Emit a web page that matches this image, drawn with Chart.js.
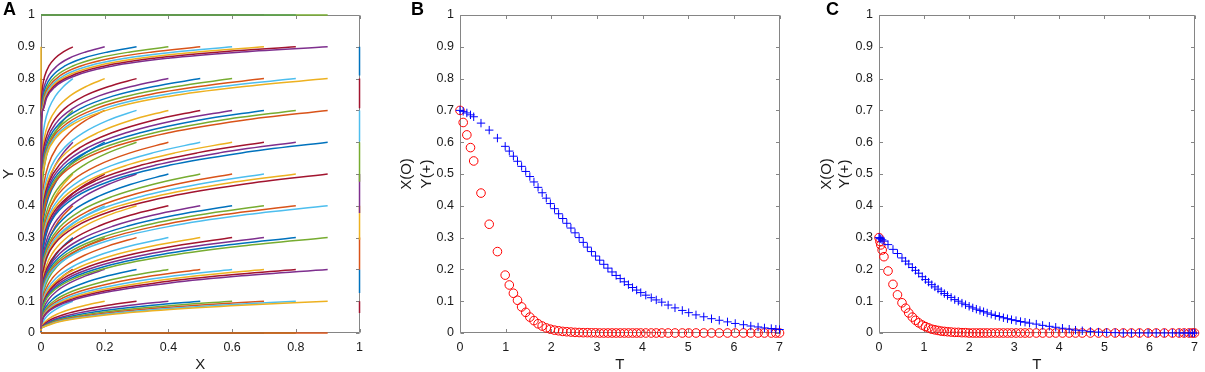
<!DOCTYPE html>
<html>
<head>
<meta charset="utf-8">
<script src="https://cdn.jsdelivr.net/npm/chart.js@4.4.0/dist/chart.umd.min.js"></script>
<style>
  html, body { margin: 0; padding: 0; background: #fff; }
  #wrap { position: relative; width: 1205px; height: 372px; overflow: hidden; }
  #wrap canvas { position: absolute; top: 0; }
  .tag { position: absolute; top: 0; font: bold 18px/18px 'Liberation Sans', Arial, sans-serif; color: #000; }
</style>
</head>
<body>
<div id="wrap">
  <canvas id="chartA" width="370" height="372" style="left:0"></canvas>
  <canvas id="chartB" width="395" height="372" style="left:395px"></canvas>
  <canvas id="chartC" width="405" height="372" style="left:800px"></canvas>
  <div class="tag" style="left:3px">A</div>
  <div class="tag" style="left:411px">B</div>
  <div class="tag" style="left:826px">C</div>
</div>
<script>
// ---- panel A: phase trajectories ending at grid points ----
var startX = [0.1, 0.2, 0.3, 0.4, 0.5, 0.6, 0.7, 0.8, 0.9];
var startY = [0.1, 0.2, 0.3, 0.4, 0.5, 0.6, 0.7, 0.8, 0.9];
// x as a fraction of the start x, and y / start y read along each row of curves
var fracX = [0, 0.002, 0.007, 0.02, 0.05, 0.12, 0.25, 0.45, 0.7, 1];
var ratioY = [
  [0.15, 0.16, 0.18, 0.226, 0.320, 0.447, 0.591, 0.738, 0.873, 1],
  [0.075, 0.155, 0.226, 0.309, 0.407, 0.529, 0.660, 0.787, 0.899, 1],
  [0.05, 0.199, 0.275, 0.362, 0.459, 0.576, 0.697, 0.812, 0.911, 1],
  [0.038, 0.255, 0.336, 0.423, 0.517, 0.627, 0.737, 0.839, 0.925, 1],
  [0.03, 0.307, 0.389, 0.476, 0.566, 0.668, 0.769, 0.859, 0.934, 1],
  [0.025, 0.370, 0.452, 0.535, 0.619, 0.712, 0.801, 0.880, 0.944, 1],
  [0.021, 0.446, 0.525, 0.601, 0.678, 0.759, 0.835, 0.901, 0.955, 1],
  [0.019, 0.572, 0.640, 0.703, 0.764, 0.826, 0.883, 0.931, 0.968, 1],
  [0.017, 0.733, 0.780, 0.822, 0.861, 0.899, 0.933, 0.961, 0.982, 1]
];
var leftEndY = [0.001, 0.0015, 0.002, 0.003, 0.004, 0.0045, 0.005, 0.006, 0.007];
var rightEndY = [0.063, 0.126, 0.200, 0.293, 0.377, 0.476, 0.602, 0.707, 0.810];
var lineColors = ['#0072BD', '#D95319', '#EDB120', '#7E2F8E', '#77AC30', '#4DBEEE', '#A2142F'];

// ---- panel B: start (0.7, 0.7) ----
var tB = [0, 0.07, 0.15, 0.23, 0.30, 0.46, 0.64, 0.82, 0.99, 1.08, 1.17, 1.26, 1.35, 1.44, 1.53, 1.62,
  1.71, 1.80, 1.89, 1.98, 2.07, 2.16, 2.25, 2.34, 2.43, 2.52, 2.61, 2.70, 2.79, 2.88, 2.97, 3.06,
  3.15, 3.24, 3.33, 3.42, 3.51, 3.60, 3.69, 3.78, 3.87, 3.96, 4.07, 4.19, 4.30, 4.42, 4.56, 4.71,
  4.87, 5.01, 5.17, 5.34, 5.51, 5.68, 5.86, 6.03, 6.21, 6.37, 6.53, 6.67, 6.82, 6.92, 7.00];
var xB = [0.700, 0.662, 0.623, 0.583, 0.541, 0.440, 0.342, 0.256, 0.182, 0.151, 0.125, 0.103, 0.082, 0.065, 0.050, 0.039,
  0.029, 0.022, 0.016, 0.012, 0.009, 0.007, 0.005, 0.004, 0.003, 0.002, 0.0015, 0.001, 0.001, 0.0005, 0.0005, 0,
  0, 0, 0, 0, 0, 0, 0, 0, 0, 0, 0, 0, 0, 0, 0, 0,
  0, 0, 0, 0, 0, 0, 0, 0, 0, 0, 0, 0, 0, 0, 0];
var yB = [0.700, 0.697, 0.692, 0.686, 0.680, 0.660, 0.638, 0.613, 0.587, 0.572, 0.556, 0.540, 0.524, 0.508, 0.492, 0.475,
  0.458, 0.441, 0.424, 0.407, 0.391, 0.375, 0.360, 0.345, 0.330, 0.315, 0.300, 0.285, 0.270, 0.256, 0.242, 0.229,
  0.216, 0.204, 0.192, 0.181, 0.171, 0.161, 0.152, 0.143, 0.135, 0.127, 0.119, 0.111, 0.104, 0.097, 0.088, 0.079,
  0.071, 0.064, 0.057, 0.051, 0.045, 0.040, 0.035, 0.030, 0.026, 0.022, 0.019, 0.016, 0.014, 0.012, 0.011];

// ---- panel C: start (0.3, 0.3) ----
var tC = [0, 0.02, 0.04, 0.07, 0.11, 0.20, 0.31, 0.41, 0.51, 0.59, 0.66, 0.74, 0.81, 0.88, 0.96, 1.03,
  1.10, 1.17, 1.24, 1.31, 1.38, 1.45, 1.52, 1.60, 1.68, 1.76, 1.84, 1.92, 2.00, 2.08, 2.16, 2.24,
  2.32, 2.40, 2.49, 2.58, 2.67, 2.76, 2.85, 2.94, 3.04, 3.14, 3.24, 3.34, 3.49, 3.63, 3.78, 3.92,
  4.07, 4.22, 4.36, 4.51, 4.69, 4.87, 5.05, 5.24, 5.42, 5.60, 5.78, 5.97, 6.15, 6.33, 6.51, 6.66,
  6.77, 6.88, 6.95, 7.00];
var xC = [0.300, 0.288, 0.277, 0.261, 0.240, 0.195, 0.153, 0.120, 0.095, 0.078, 0.063, 0.050, 0.040, 0.032, 0.025, 0.020,
  0.016, 0.012, 0.010, 0.008, 0.006, 0.005, 0.004, 0.003, 0.002, 0.002, 0.001, 0.001, 0, 0, 0, 0,
  0, 0, 0, 0, 0, 0, 0, 0, 0, 0, 0, 0, 0, 0, 0, 0,
  0, 0, 0, 0, 0, 0, 0, 0, 0, 0, 0, 0, 0, 0, 0, 0,
  0, 0, 0, 0];
var yC = [0.300, 0.298, 0.296, 0.293, 0.289, 0.278, 0.263, 0.250, 0.236, 0.226, 0.217, 0.206, 0.197, 0.188, 0.177, 0.168,
  0.160, 0.152, 0.145, 0.138, 0.131, 0.124, 0.118, 0.112, 0.105, 0.100, 0.094, 0.089, 0.084, 0.079, 0.075, 0.071,
  0.067, 0.063, 0.059, 0.055, 0.052, 0.048, 0.045, 0.042, 0.039, 0.036, 0.034, 0.031, 0.028, 0.024, 0.021, 0.018,
  0.015, 0.012, 0.009, 0.007, 0.005, 0.003, 0.002, 0.001, 0, 0, 0, 0, 0, 0, 0, 0,
  0, 0, 0, 0];

var FONT = "'Liberation Sans', Arial, sans-serif";
var TEXT = '#1a1a1a';

function fmt(v) { return String(Math.round(v * 10) / 10); }

// MATLAB style box with inward ticks on all four sides, under the data
var boxPlugin = {
  id: 'box',
  beforeDatasetsDraw: function (chart) {
    var a = chart.chartArea, ctx = chart.ctx, sx = chart.scales.x, sy = chart.scales.y, len = 3.5;
    var L = Math.round(a.left) + 0.5, R = Math.round(a.right) - 0.5;
    var T = Math.round(a.top) + 0.5, B = Math.round(a.bottom) - 0.5;
    ctx.save();
    ctx.strokeStyle = '#858585';
    ctx.lineWidth = 1;
    ctx.beginPath();
    ctx.rect(L, T, R - L, B - T);
    sx.ticks.forEach(function (t) {
      var p = Math.round(sx.getPixelForValue(t.value)) + 0.5;
      ctx.moveTo(p, B); ctx.lineTo(p, B - len);
      ctx.moveTo(p, T); ctx.lineTo(p, T + len);
    });
    sy.ticks.forEach(function (t) {
      var p = Math.round(sy.getPixelForValue(t.value)) + 0.5;
      ctx.moveTo(L, p); ctx.lineTo(L + len, p);
      ctx.moveTo(R, p); ctx.lineTo(R - len, p);
    });
    ctx.stroke();
    ctx.restore();
  }
};

function makeScales(o) {
  var tickFont = { family: FONT, size: 12.5 };
  return {
    x: {
      type: 'linear', min: 0, max: o.xMax,
      grid: { display: false, drawTicks: false }, border: { display: false },
      ticks: { stepSize: o.xStep, autoSkip: false, maxRotation: 0, padding: 7, color: TEXT, font: tickFont, callback: fmt },
      title: { display: true, text: o.xTitle, color: TEXT, font: { family: FONT, size: 15, lineHeight: 1.0 }, padding: 0 },
      afterFit: function (s) { s.height = 39; }
    },
    y: {
      type: 'linear', min: 0, max: 1,
      grid: { display: false, drawTicks: false }, border: { display: false },
      ticks: { stepSize: 0.1, autoSkip: false, padding: 6, color: TEXT, font: tickFont, callback: fmt },
      title: { display: true, text: o.yTitle, color: TEXT, font: { family: FONT, size: 15, lineHeight: o.yLine }, padding: o.yPad },
      afterFit: function (s) { s.width = o.yWidth; }
    }
  };
}

function baseOptions(scales, rightPad) {
  return {
    responsive: false, animation: false, events: [],
    layout: { padding: { top: 15, right: rightPad, bottom: 0, left: 0 } },
    plugins: { legend: { display: false }, tooltip: { enabled: false } },
    scales: scales
  };
}

// ---- build panel A ----
function trace(points, n) {
  return {
    data: points, showLine: true, fill: false, pointRadius: 0,
    borderColor: lineColors[n % 7], borderWidth: 1.5,
    cubicInterpolationMode: 'monotone', order: -n, clip: 2
  };
}

var setsA = [];
startY.forEach(function (y0, j) {
  setsA.push(trace([{ x: 0, y: leftEndY[j] }, { x: 0, y: y0 }], j + 1));
});
startX.forEach(function (x0, i) {
  var n0 = 11 * (i + 1);
  setsA.push(trace([{ x: 0, y: 0 }, { x: x0, y: 0 }], n0));
  startY.forEach(function (y0, j) {
    var pts = fracX.map(function (f, k) { return { x: x0 * f, y: y0 * ratioY[j][k] }; });
    setsA.push(trace(pts, n0 + j + 1));
  });
  setsA.push(trace([{ x: 0, y: 1 }, { x: x0, y: 1 }], n0 + 10));
});
startY.forEach(function (y0, j) {
  setsA.push(trace([{ x: 1, y: rightEndY[j] }, { x: 1, y: y0 }], 110 + j + 1));
});

new Chart(document.getElementById('chartA'), {
  type: 'scatter',
  data: { datasets: setsA },
  options: baseOptions(makeScales({ xMax: 1, xStep: 0.2, xTitle: 'X', yTitle: 'Y', yLine: 1.2, yPad: 0, yWidth: 41 }), 8),
  plugins: [boxPlugin]
});

// ---- panels B and C ----
function timeSets(t, xs, ys) {
  return [
    { label: 'Y(+)', data: t.map(function (v, i) { return { x: v, y: ys[i] }; }),
      pointStyle: 'cross', pointRadius: 4.2, pointBorderColor: '#0000ff', pointBorderWidth: 1, order: 0, clip: false },
    { label: 'X(O)', data: t.map(function (v, i) { return { x: v, y: xs[i] }; }),
      pointStyle: 'circle', pointRadius: 4.3, pointBorderColor: '#ff0000', pointBackgroundColor: 'rgba(0,0,0,0)',
      pointBorderWidth: 1, order: 1, clip: false }
  ];
}

new Chart(document.getElementById('chartB'), {
  type: 'scatter',
  data: { datasets: timeSets(tB, xB, yB) },
  options: baseOptions(makeScales({ xMax: 7, xStep: 1, xTitle: 'T', yTitle: ['X(O)', 'Y(+)'], yLine: 1.33, yPad: 2, yWidth: 65 }), 9),
  plugins: [boxPlugin]
});

new Chart(document.getElementById('chartC'), {
  type: 'scatter',
  data: { datasets: timeSets(tC, xC, yC) },
  options: baseOptions(makeScales({ xMax: 7, xStep: 1, xTitle: 'T', yTitle: ['X(O)', 'Y(+)'], yLine: 1.2, yPad: 18, yWidth: 79 }), 6),
  plugins: [boxPlugin]
});
</script>
</body>
</html>
